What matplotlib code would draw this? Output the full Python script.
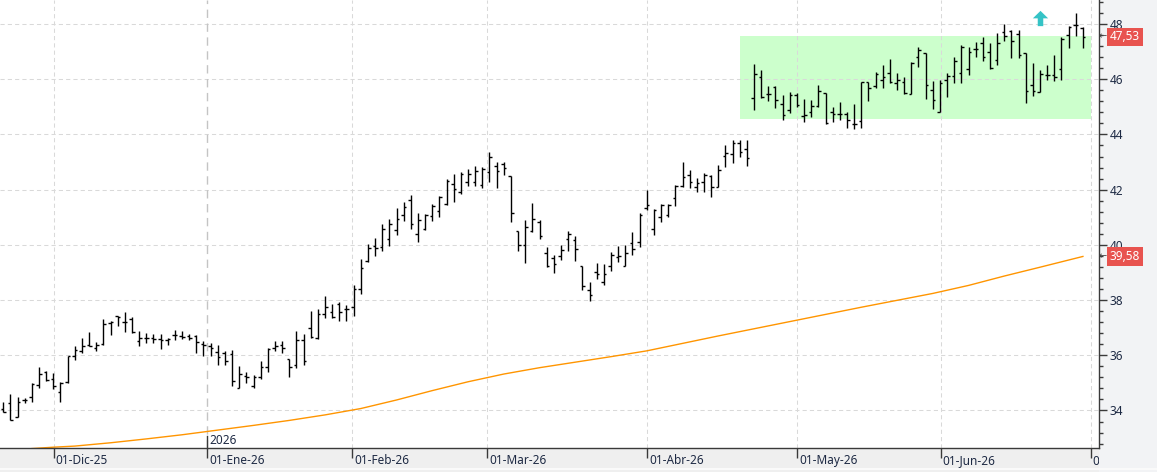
"""OHLC daily bars with a long moving average, range box and value flags."""
import matplotlib
matplotlib.use("Agg")
import matplotlib.pyplot as plt
import numpy as np
from matplotlib.path import Path
from matplotlib.ticker import MultipleLocator
from matplotlib.transforms import Bbox, TransformedBbox, offset_copy

plt.rcParams["font.family"] = ["Noto Sans", "DejaVu Sans"]

# ---- data ----
opens = [34.05, 34.26, 33.77, 34.38, 34.48, 34.91, 35.40, 35.13, 34.67, 35.02,
         35.98, 36.15, 36.36, 36.26, 36.42, 37.17, 37.42, 37.21, 37.32, 36.53,
         36.63, 36.63, 36.59, 36.54, 36.72, 36.71, 36.69, 36.69, 36.42, 36.32,
         36.13, 36.08, 36.06, 34.83, 35.25, 34.89, 35.23, 35.57, 36.26, 36.38,
         35.86, 35.63, 36.57, 36.99, 36.63, 37.48, 37.56, 37.84, 37.66, 37.75,
         38.40, 39.41, 39.95, 39.93, 40.23, 40.53, 41.08, 41.62, 40.38, 40.59,
         41.03, 41.22, 41.48, 42.21, 41.90, 42.27, 42.29, 42.17, 42.63, 42.85,
         42.94, 42.49, 40.49, 40.00, 40.50, 40.81, 39.72, 39.53, 39.59, 40.20,
         40.17, 39.23, 38.38, 39.01, 38.65, 39.23, 39.57, 39.25, 40.05, 40.12,
         41.33, 40.59, 41.00, 41.07, 41.69, 42.15, 42.53, 42.09, 42.27, 42.51,
         42.11, 43.22, 43.29, 43.70, 43.46, 45.31, 46.07, 45.46, 45.73, 45.10,
         44.88, 45.43, 44.68, 44.81, 45.03, 45.49, 44.82, 44.73, 44.74, 44.37,
         44.48, 45.89, 45.75, 45.99, 46.24, 45.85, 45.91, 45.46, 46.79, 46.94,
         45.60, 44.83, 45.98, 46.10, 46.24, 46.36, 47.08, 47.33, 47.00, 46.70,
         47.72, 47.76, 47.63, 46.96, 45.80, 45.55, 46.16, 46.16, 46.36, 47.60,
         47.96, 47.84]
highs = [34.32, 34.59, 34.50, 34.45, 34.99, 35.57, 35.44, 35.35, 35.02, 35.98,
         36.32, 36.63, 36.86, 36.49, 37.32, 37.23, 37.44, 37.57, 37.39, 36.87,
         36.81, 36.78, 36.78, 36.63, 36.91, 36.87, 36.78, 36.75, 36.50, 36.44,
         36.37, 36.16, 36.20, 35.62, 35.40, 35.27, 35.78, 36.26, 36.50, 36.50,
         35.86, 36.89, 36.77, 37.59, 37.68, 38.15, 37.84, 37.93, 37.81, 38.54,
         39.47, 40.02, 40.24, 40.75, 40.93, 41.33, 41.56, 41.81, 41.15, 41.11,
         41.48, 41.78, 42.39, 42.57, 42.63, 42.73, 42.85, 42.81, 43.36, 43.00,
         43.00, 42.49, 40.49, 40.90, 41.51, 40.90, 39.92, 39.65, 40.01, 40.49,
         40.32, 39.25, 38.66, 39.33, 39.30, 39.75, 39.96, 39.98, 40.48, 41.16,
         42.00, 41.30, 41.49, 41.49, 42.17, 42.99, 42.71, 42.41, 42.59, 42.53,
         42.89, 43.62, 43.80, 43.80, 43.80, 46.55, 46.33, 45.75, 45.75, 45.43,
         45.53, 45.49, 45.30, 45.24, 45.79, 45.51, 44.98, 45.16, 44.82, 45.09,
         45.91, 45.91, 46.27, 46.51, 46.72, 46.21, 46.07, 46.63, 47.15, 46.94,
         45.92, 45.98, 46.24, 46.82, 47.24, 47.18, 47.36, 47.52, 47.30, 47.66,
         48.00, 47.78, 47.78, 46.96, 46.58, 46.34, 46.52, 46.88, 47.54, 47.93,
         48.39, 47.88]
lows = [33.93, 33.65, 33.75, 34.28, 34.32, 34.80, 35.05, 34.79, 34.32, 34.99,
        35.84, 36.10, 36.32, 36.14, 36.37, 36.75, 37.05, 36.85, 36.81, 36.32,
        36.44, 36.44, 36.22, 36.36, 36.54, 36.59, 36.54, 36.08, 35.98, 35.96,
        35.63, 35.65, 34.87, 34.80, 34.99, 34.80, 35.14, 35.38, 36.17, 36.08,
        35.23, 35.53, 35.63, 36.61, 36.59, 37.36, 37.34, 37.23, 37.23, 37.41,
        38.23, 39.38, 39.59, 39.78, 39.96, 40.36, 40.87, 40.57, 40.10, 40.54,
        40.87, 41.02, 41.45, 41.56, 41.83, 42.12, 42.15, 42.06, 42.29, 42.05,
        42.53, 40.83, 39.78, 39.35, 40.47, 40.23, 39.20, 38.99, 39.44, 39.78,
        39.41, 38.35, 37.96, 38.75, 38.54, 39.07, 39.37, 39.22, 39.65, 39.92,
        41.27, 40.35, 40.82, 41.00, 41.39, 42.11, 42.05, 41.93, 41.90, 41.75,
        42.09, 42.81, 42.95, 43.20, 42.87, 44.88, 45.31, 45.22, 44.97, 44.54,
        44.76, 45.00, 44.46, 44.62, 45.00, 44.36, 44.46, 44.52, 44.22, 44.21,
        44.25, 45.22, 45.67, 45.69, 45.85, 45.61, 45.46, 45.46, 46.45, 45.28,
        44.92, 44.80, 45.37, 45.88, 45.86, 46.16, 46.82, 46.66, 46.36, 46.52,
        47.40, 46.78, 46.76, 45.13, 45.41, 45.52, 45.98, 45.92, 45.98, 47.14,
        47.58, 47.14]
closes = [33.95, 33.67, 34.31, 34.38, 34.95, 35.31, 35.10, 34.87, 34.99, 35.96,
          36.20, 36.32, 36.32, 36.38, 37.15, 37.20, 37.39, 37.21, 36.83, 36.63,
          36.63, 36.59, 36.57, 36.59, 36.75, 36.66, 36.63, 36.47, 36.38, 36.26,
          35.93, 35.80, 35.08, 35.31, 35.20, 35.23, 35.57, 36.23, 36.35, 36.26,
          35.57, 36.57, 35.80, 36.65, 37.51, 37.76, 37.38, 37.56, 37.68, 38.40,
          39.17, 39.90, 39.90, 40.59, 40.77, 40.93, 41.36, 40.75, 40.89, 41.08,
          41.42, 41.72, 42.33, 42.02, 42.57, 42.57, 42.67, 42.73, 43.18, 42.69,
          42.78, 41.17, 39.98, 40.63, 40.93, 40.32, 39.23, 39.32, 39.80, 40.38,
          39.84, 38.52, 38.20, 38.96, 38.93, 39.62, 39.59, 39.69, 39.84, 41.07,
          41.46, 41.26, 41.45, 41.45, 42.15, 42.47, 42.26, 42.23, 42.53, 42.11,
          42.71, 43.32, 43.70, 43.35, 43.14, 46.19, 45.37, 45.46, 45.24, 44.70,
          45.43, 45.06, 44.70, 45.03, 45.58, 44.42, 44.74, 44.74, 44.54, 44.37,
          45.91, 45.67, 46.19, 46.07, 45.89, 45.97, 45.49, 46.57, 47.06, 45.79,
          45.25, 45.86, 46.10, 46.66, 47.18, 47.00, 47.08, 46.82, 46.40, 47.33,
          47.57, 47.39, 46.88, 45.59, 45.59, 46.19, 46.16, 46.07, 47.45, 47.90,
          47.96, 47.53]

# long moving average, sampled at bar indices
ma_idx = [4, 7, 10, 15, 20, 25, 30, 35, 40, 45, 50, 55, 60, 65, 70, 75, 80, 85,
          90, 95, 100, 105, 110, 115, 120, 125, 130, 135, 140, 145, 151]
ma_val = [32.62, 32.67, 32.71, 32.83, 32.97, 33.12, 33.29, 33.46, 33.64, 33.84,
          34.07, 34.38, 34.72, 35.04, 35.32, 35.55, 35.75, 35.95, 36.16, 36.43,
          36.70, 36.96, 37.22, 37.48, 37.74, 37.99, 38.24, 38.53, 38.87, 39.19,
          39.58]

# month gridlines (bar-index position) and their labels
month_pos = [7.03, 28.53, 48.84, 67.71, 90.1, 111.05, 131.1, 152.08]
month_labels = ["01-Dic-25", "01-Ene-26", "01-Feb-26", "01-Mar-26",
                "01-Abr-26", "01-May-26", "01-Jun-26", "01-Jul-26"]
year_pos, year_label = 28.53, "2026"

zone_x = (103.0, 152.08)
zone_y = (44.56, 47.57)
signal_idx, signal_price = 145, 48.2

# ---- figure ----
W, H = 1157, 472
fig = plt.figure(figsize=(W / 100, H / 100), dpi=100, facecolor="#f2f3f5")
fig.patches.append(plt.Rectangle((0, 0), 1099 / W, 24 / H, transform=fig.transFigure,
                                 facecolor="#efefef", edgecolor="none", zorder=-1))
fig.patches.append(plt.Rectangle((0, 2 / H), 1, 2 / H, transform=fig.transFigure,
                                 facecolor="#fafafa", edgecolor="none", zorder=-1))
ax = fig.add_axes([0, 1 - 448.3 / H, 1099 / W, 448.3 / H])
ax.set_facecolor("white")

x = np.arange(len(closes))
ax.set_xlim(-0.46, 153.25)
ax.set_ylim(32.63, 48.87)

# range box
ax.fill_between(zone_x, zone_y[0], zone_y[1], color="#ccffcc", lw=0, zorder=0.5)

# grid
dash = (0, (4, 3))
for yv in range(34, 49, 2):
    ax.axhline(yv, color="#d9d9d9", lw=0.75, ls=dash, zorder=0.8)
for mp in month_pos:
    if mp != year_pos:
        ax.axvline(mp, color="#d9d9d9", lw=0.75, ls=dash, zorder=0.8)
ax.axvline(year_pos, color="#c4c4c4", lw=1.0, ls=(0, (6, 4)), zorder=0.8)

# OHLC bars
ax.vlines(x, lows, highs, color="black", lw=1.0, zorder=2)
ax.hlines(opens, x - 0.36, x, color="black", lw=1.0, zorder=2)
ax.hlines(closes, x, x + 0.36, color="black", lw=1.0, zorder=2)

# moving average
ax.plot(ma_idx, ma_val, color="#ff9500", lw=1.0, zorder=1.5)

# signal icon
arrow = Path([(-1.0, 0.02), (0.0, 1.0), (1.0, 0.02), (0.36, 0.02), (0.36, -1.0),
              (-0.36, -1.0), (-0.36, 0.02), (-1.0, 0.02)])
ax.plot([signal_idx], [signal_price], marker=arrow, ms=11, color="#35c3c6",
        mec="none", ls="none", zorder=3)

# axes styling
for side in ("top", "left"):
    ax.spines[side].set_visible(False)
for side in ("bottom", "right"):
    ax.spines[side].set_color("#3a3a3a")
    ax.spines[side].set_linewidth(1.0)

txt_col = "#1e2a44"
ax.yaxis.tick_right()
ax.set_yticks(range(34, 49, 2))
ax.yaxis.set_minor_locator(MultipleLocator(0.4))
ax.tick_params(axis="y", which="major", length=5.5, width=1, color="#3a3a3a",
               labelsize=8.5, labelcolor=txt_col, pad=2)
ax.tick_params(axis="y", which="minor", length=2.8, width=1, color="#3a3a3a")
ax.set_xticks(month_pos)
ax.set_xticklabels([])
ax.tick_params(axis="x", length=7, width=1, color="#3a3a3a")

# month labels, clipped at the price panel like the original
clip = TransformedBbox(Bbox([[0, 0], [1099 / W, 1]]), fig.transFigure)
lab_tr = offset_copy(ax.get_xaxis_transform(), fig=fig, x=2, y=-12, units="dots")
for mp, lab in zip(month_pos, month_labels):
    t = ax.text(mp, 0, lab, transform=lab_tr, ha="left", va="center",
                fontsize=8.5, color=txt_col, clip_on=True)
    t.set_clip_path(None)
    t.set_clip_box(clip)

# year marker
ax.plot([year_pos, year_pos], [0, 12 / 448.3], transform=ax.get_xaxis_transform(),
        color="#3a3a3a", lw=1.0, clip_on=False, zorder=3)
ax.text(year_pos, 0, year_label,
        transform=offset_copy(ax.get_xaxis_transform(), fig=fig, x=2, y=8, units="dots"),
        ha="left", va="center", fontsize=8.5, color=txt_col)

# value flags on the price axis
flag_tr = ax.get_yaxis_transform()
for v in (closes[-1], ma_val[-1]):
    ax.text(1 + 11 / 1099, v, f"{v:.2f}".replace(".", ","), transform=flag_tr,
            ha="left", va="center", fontsize=8.5, color="white", clip_on=False, zorder=5,
            bbox=dict(boxstyle="square,pad=0.22", fc="#e8534f", ec="none"))
    ax.text(1 + 4 / 1099, v, "\u2190", transform=flag_tr, ha="center", va="center",
            fontsize=7, color="#444444", clip_on=False, zorder=5)

fig.savefig("out.png", dpi=100, facecolor=fig.get_facecolor())
